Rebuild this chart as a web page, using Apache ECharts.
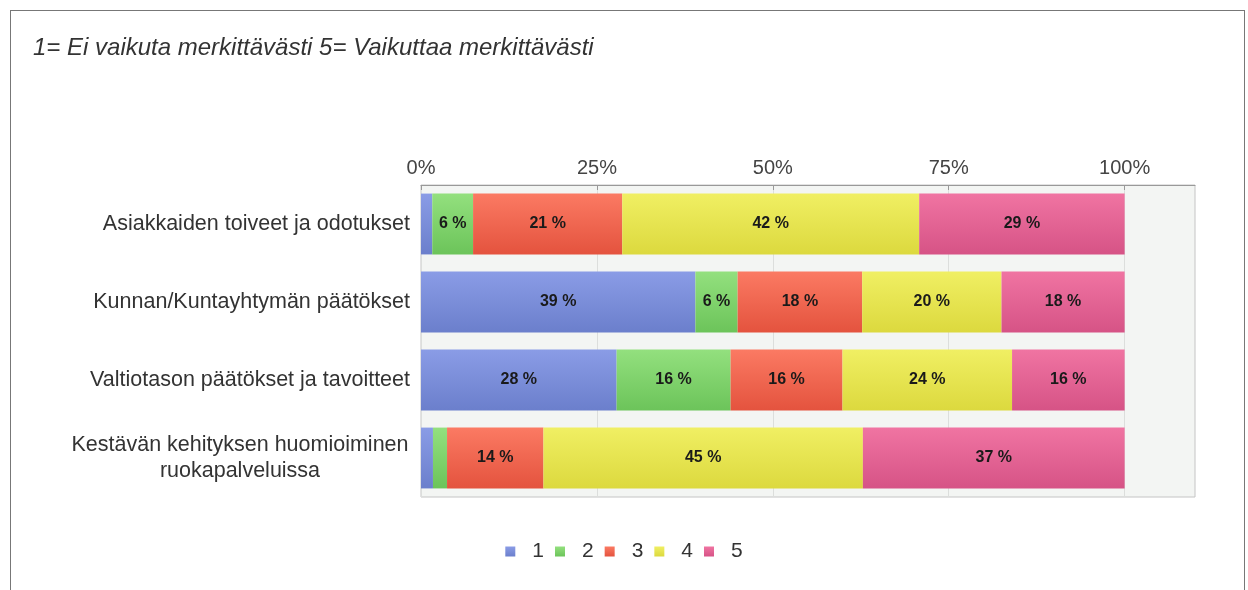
<!DOCTYPE html>
<html>
<head>
<meta charset="utf-8">
<script src="https://cdn.jsdelivr.net/npm/echarts@6/dist/echarts.min.js"></script>
<style>
  html, body { margin: 0; padding: 0; background: #fff; }
  #frame { position: absolute; left: 10px; top: 10px; width: 1233px; height: 600px;
    border: 1px solid #777; border-bottom: none; }
  #chart { position: absolute; left: 0; top: 0; width: 1248px; height: 590px; }
</style>
</head>
<body>
<div id="frame"></div>
<div id="chart"></div>
<script>
// kategoriat ja arvot (%)
var categories = [
  'Asiakkaiden toiveet ja odotukset',
  'Kunnan/Kuntayhtymän päätökset',
  'Valtiotason päätökset ja tavoitteet',
  'Kestävän kehityksen huomioiminen\nruokapalveluissa'
]
var s1 = [1.6, 39.0, 27.8, 1.7]
var s2 = [5.8, 6.0, 16.2, 2.0]
var s3 = [21.2, 17.7, 15.9, 13.7]
var s4 = [42.2, 19.8, 24.1, 45.4]
var s5 = [29.2, 17.5, 16.0, 37.2]
var seriesNames = ['1', '2', '3', '4', '5']
var xTicks = [0, 25, 50, 75, 100]

var colors = [
  ['#8a9ce6', '#6b7fcc'],
  ['#93e07e', '#6cc45a'],
  ['#fb7a63', '#e4533e'],
  ['#f0ef63', '#dcd93e'],
  ['#f074a2', '#d65386']
]

var chart = echarts.init(document.getElementById('chart'))

function grad (c) {
  return new echarts.graphic.LinearGradient(0, 0, 0, 1, [
    { offset: 0, color: c[0] },
    { offset: 1, color: c[1] }
  ])
}

var allData = [s1, s2, s3, s4, s5]
var series = allData.map(function (d, i) {
  return {
    name: seriesNames[i],
    type: 'bar',
    stack: 'total',
    barCategoryGap: '22%',
    data: d,
    itemStyle: { color: grad(colors[i]) },
    label: {
      show: true,
      position: 'inside',
      color: '#1a1a1a',
      fontFamily: 'Liberation Sans',
      fontWeight: 'bold',
      fontSize: 16,
      formatter: function (p) {
        return p.value >= 4 ? Math.round(p.value) + ' %' : ''
      }
    }
  }
})

chart.setOption({
  animation: false,
  color: colors.map(function (c) { return c[1] }),
  title: {
    text: '1= Ei vaikuta merkittävästi 5= Vaikuttaa merkittävästi',
    left: 28,
    top: 31,
    textStyle: {
      fontFamily: 'Liberation Sans',
      fontStyle: 'italic',
      fontWeight: 'normal',
      fontSize: 24,
      color: '#333'
    }
  },
  legend: {
    data: seriesNames,
    bottom: 23,
    left: 'center',
    itemWidth: 10,
    itemHeight: 10,
    itemGap: 11,
    icon: 'rect',
    textStyle: { fontFamily: 'Liberation Sans', fontSize: 21, color: '#333', padding: [0, 0, 0, 12] }
  },
  grid: {
    left: 421,
    right: 53,
    top: 185,
    bottom: 93,
    show: true,
    backgroundColor: '#f3f5f3',
    borderColor: '#c4c4c4',
    borderWidth: 1
  },
  xAxis: {
    type: 'value',
    position: 'top',
    min: 0,
    max: 110,
    interval: 25,
    axisLine: { show: true, lineStyle: { color: '#999' } },
    axisTick: { show: true, inside: true, length: 5, customValues: xTicks, lineStyle: { color: '#999' } },
    splitLine: { show: true, lineStyle: { color: '#dcdedc' } },
    axisLabel: {
      color: '#444',
      fontFamily: 'Liberation Sans',
      fontSize: 20,
      margin: 7,
      customValues: xTicks,
      formatter: function (v) {
        return xTicks.indexOf(v) >= 0 ? v + '%' : ''
      }
    }
  },
  yAxis: {
    type: 'category',
    data: categories,
    inverse: true,
    axisLine: { show: false },
    axisTick: { show: false },
    axisLabel: {
      color: '#333',
      fontFamily: 'Liberation Sans',
      fontSize: 21.5,
      margin: 11,
      lineHeight: 26,
      formatter: function (v) {
        if (v.indexOf('\n') >= 0) {
          return v.split('\n').map(function (l) { return '{c|' + l + '}' }).join('\n')
        }
        return v
      },
      rich: {
        c: { width: 340, align: 'center', fontSize: 21.5, lineHeight: 26, color: '#333', fontFamily: 'Liberation Sans' }
      }
    }
  },
  series: series
})
</script>
</body>
</html>
